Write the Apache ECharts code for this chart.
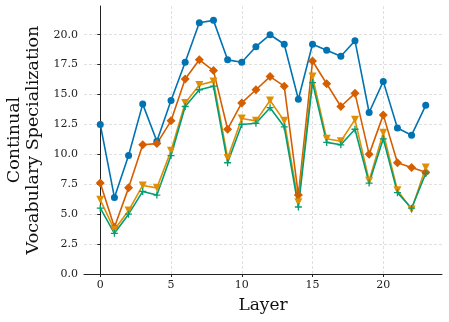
<!DOCTYPE html>
<html>
<head>
<meta charset="utf-8">
<script src="https://cdn.jsdelivr.net/npm/echarts@6/dist/echarts.min.js"></script>
<style>
  html, body { margin: 0; padding: 0; background: #fff; }
  #chart { width: 449px; height: 322px; }
</style>
</head>
<body>
<div id="chart"></div>
<script>
// Layers 0..23
const layers = Array.from({ length: 24 }, (_, i) => i);

// series values
const blueVals = [12.5, 6.4, 9.9, 14.2, 11.1, 14.5, 17.7, 21.0, 21.2, 17.9, 17.7, 19.0,
  20.0, 19.2, 14.6, 19.2, 18.7, 18.2, 19.5, 13.5, 16.1, 12.2, 11.6, 14.1];
const orangeVals = [7.6, 3.9, 7.2, 10.8, 10.9, 12.8, 16.3, 17.9, 17.0, 12.1, 14.3, 15.4,
  16.5, 15.7, 6.6, 17.8, 15.9, 14.0, 15.1, 10.0, 13.3, 9.3, 8.9, 8.5];
const yellowVals = [6.2, 3.7, 5.3, 7.4, 7.2, 10.3, 14.3, 15.8, 16.1, 9.7, 13.0, 12.8,
  14.5, 12.8, 6.0, 16.5, 11.3, 11.1, 12.9, 7.8, 11.8, 7.0, 5.4, 8.9];
const greenVals = [5.5, 3.4, 5.0, 6.9, 6.6, 9.9, 14.0, 15.4, 15.7, 9.3, 12.5, 12.6,
  13.9, 12.3, 5.6, 16.0, 11.0, 10.8, 12.1, 7.6, 11.3, 6.8, 5.5, 8.4];

// tick labels
const xTicks = [0, 5, 10, 15, 20];
const yTicks = [0, 2.5, 5, 7.5, 10, 12.5, 15, 17.5, 20];

const serif = '"DejaVu Serif", "Liberation Serif", serif';

const pair = vals => vals.map((v, i) => [layers[i], v]);

function lineSeries(name, vals, color, symbol, size, extra) {
  return Object.assign({
    name: name,
    type: 'line',
    data: pair(vals),
    symbol: symbol,
    symbolSize: size,
    showAllSymbol: true,
    lineStyle: { color: color, width: 1.6 },
    itemStyle: { color: color },
    emphasis: { disabled: true },
    animation: false
  }, extra || {});
}

const chart = echarts.init(document.getElementById('chart'));
chart.setOption({
  animation: false,
  grid: { left: 84, right: 7, top: 6, bottom: 48, outerBoundsMode: 'none', containLabel: false },
  xAxis: {
    type: 'value',
    min: -1.15,
    max: 24.15,
    name: 'Layer',
    nameLocation: 'middle',
    nameGap: 23,
    nameTextStyle: { fontFamily: serif, fontSize: 17, color: '#111' },
    axisLine: { show: true, lineStyle: { color: '#222', width: 1 } },
    axisTick: { show: true, length: 3, customValues: xTicks, lineStyle: { color: '#222' } },
    axisLabel: { customValues: xTicks, fontFamily: serif, fontSize: 11, color: '#222', margin: 6 },
    splitLine: { show: true, lineStyle: { color: '#d8d8d8', type: [3, 2], width: 0.8 } }
  },
  yAxis: {
    type: 'value',
    min: 0,
    max: 22.4,
    name: 'Continual\nVocabulary Specialization',
    nameLocation: 'middle',
    nameRotate: 90,
    nameGap: 38,
    nameTextStyle: { fontFamily: serif, fontSize: 17.5, color: '#111', lineHeight: 19 },
    axisLine: { show: true, lineStyle: { color: '#222', width: 1 } },
    axisTick: { show: true, length: 3, customValues: yTicks, lineStyle: { color: '#222' } },
    axisLabel: {
      customValues: yTicks, fontFamily: serif, fontSize: 11, color: '#222', margin: 6,
      formatter: v => v.toFixed(1)
    },
    splitLine: { show: true, lineStyle: { color: '#d8d8d8', type: [3, 2], width: 0.8 } }
  },
  series: [
    lineSeries('blue', blueVals, '#0173b2', 'circle', 7),
    lineSeries('orange', orangeVals, '#d55e00', 'diamond', 9),
    lineSeries('yellow', yellowVals, '#de8f05', 'triangle', 8, { symbolRotate: 180 }),
    lineSeries('green', greenVals, '#029e73', 'path://M-1,0L1,0M0,-1L0,1', 7, {
      itemStyle: { color: 'none', borderColor: '#029e73', borderWidth: 1.3 }
    })
  ]
});
</script>
</body>
</html>
